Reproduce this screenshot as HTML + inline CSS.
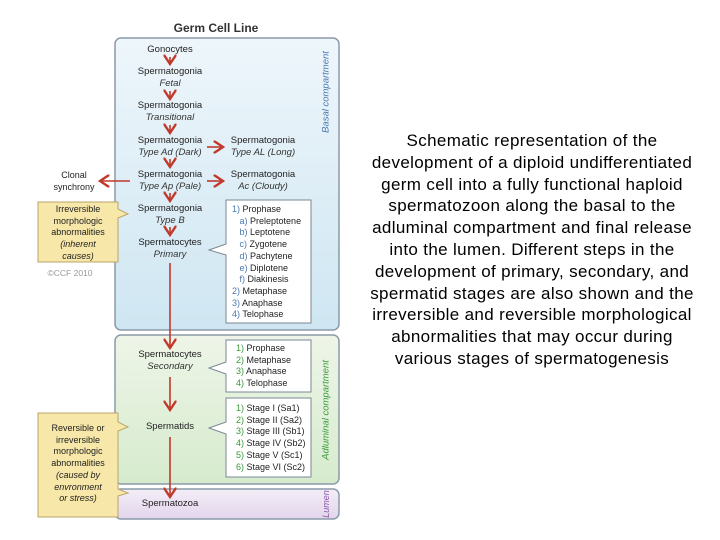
<!DOCTYPE html>
<html><head><style>
body{margin:0;width:720px;height:540px;background:#fff;position:relative;overflow:hidden;font-family:"Liberation Sans",sans-serif}
.t{position:absolute;font-size:9.5px;color:#222;white-space:nowrap;text-align:center;transform:translateX(-50%);line-height:12px}
.i{font-style:italic;color:#333}
.b{font-weight:bold}
.txt{position:absolute;left:532px;top:130px;transform:translateX(-50%);text-align:center;font-size:17px;letter-spacing:0.35px;line-height:21.8px;color:#000;white-space:nowrap}
</style></head><body>
<svg width="720" height="540" style="position:absolute;left:0;top:0">
<defs>
<linearGradient id="g1" x1="0" y1="0" x2="0" y2="1"><stop offset="0" stop-color="#eef6fb"/><stop offset="1" stop-color="#cfe6f2"/></linearGradient>
<linearGradient id="g2" x1="0" y1="0" x2="0" y2="1"><stop offset="0" stop-color="#eef5e8"/><stop offset="1" stop-color="#d6ebcd"/></linearGradient>
<linearGradient id="g3" x1="0" y1="0" x2="0" y2="1"><stop offset="0" stop-color="#f4eef8"/><stop offset="1" stop-color="#e3d5ec"/></linearGradient>
<marker id="a" markerWidth="8" markerHeight="8" refX="6" refY="4" orient="auto"><path d="M0,0 L6,4 L0,8" fill="none" stroke="#c0392b" stroke-width="1.5"/></marker>
</defs>
<rect x="115" y="38" width="224" height="292" rx="6" fill="url(#g1)" stroke="#8a9aa8" stroke-width="1.5"/>
<rect x="115" y="335" width="224" height="149" rx="6" fill="url(#g2)" stroke="#8a9aa8" stroke-width="1.5"/>
<rect x="115" y="489" width="224" height="30" rx="6" fill="url(#g3)" stroke="#8a9aa8" stroke-width="1.5"/>
<g stroke="#c0392b" stroke-width="1.6" fill="none">
<path d="M170,57 v7" marker-end="url(#a)"/>
<path d="M170,91 v8" marker-end="url(#a)"/>
<path d="M170,125 v8" marker-end="url(#a)"/>
<path d="M170,159 v8" marker-end="url(#a)"/>
<path d="M170,193 v8" marker-end="url(#a)"/>
<path d="M170,227 v8" marker-end="url(#a)"/>
<path d="M207,147 h16" marker-end="url(#a)"/>
<path d="M207,181 h16" marker-end="url(#a)"/>
<path d="M130,181 h-30" marker-end="url(#a)"/>
<path d="M170,263 v85" marker-end="url(#a)"/>
<path d="M170,377 v33" marker-end="url(#a)"/>
<path d="M170,437 v60" marker-end="url(#a)"/>
</g>
<g fill="#fff" stroke="#7a8894" stroke-width="1">
<path d="M226,200 h85 v123 h-85 v-68 l-17,-5 l17,-6 z"/>
<path d="M226,340 h85 v52 h-85 v-18 l-17,-6 l17,-6 z"/>
<path d="M226,398 h85 v79 h-85 v-43 l-17,-6 l17,-6 z"/>
</g>
<g fill="#f7e7a8" stroke="#b8a66a" stroke-width="1">
<path d="M38,202 h80 v7 l10,5 l-10,4 v44 h-80 z"/>
<path d="M38,413 h80 v9 l10,5 l-10,4 v58 l10,4 l-10,3 v21 h-80 z"/>
</g>
</svg>
<div class="t b" style="left:216px;top:22px;font-size:12px;color:#333">Germ Cell Line</div>
<div class="t" style="left:170px;top:44px">Gonocytes</div>
<div class="t" style="left:170px;top:66px">Spermatogonia</div><div class="t i" style="left:170px;top:78px">Fetal</div>
<div class="t" style="left:170px;top:100px">Spermatogonia</div><div class="t i" style="left:170px;top:112px">Transitional</div>
<div class="t" style="left:170px;top:135px">Spermatogonia</div><div class="t i" style="left:170px;top:147px">Type Ad (Dark)</div>
<div class="t" style="left:170px;top:169px">Spermatogonia</div><div class="t i" style="left:170px;top:181px">Type Ap (Pale)</div>
<div class="t" style="left:170px;top:203px">Spermatogonia</div><div class="t i" style="left:170px;top:215px">Type B</div>
<div class="t" style="left:170px;top:237px">Spermatocytes</div><div class="t i" style="left:170px;top:249px">Primary</div>
<div class="t" style="left:263px;top:135px">Spermatogonia</div><div class="t i" style="left:263px;top:147px">Type AL (Long)</div>
<div class="t" style="left:263px;top:169px">Spermatogonia</div><div class="t i" style="left:263px;top:181px">Ac (Cloudy)</div>
<div class="t" style="left:74px;top:169px;font-size:9px">Clonal<br>synchrony</div>
<div class="t" style="left:78px;top:204px;font-size:9px;line-height:11.7px">Irreversible<br>morphologic<br>abnormalities<br><i>(inherent<br>causes)</i></div>
<div class="t" style="left:70px;top:267px;font-size:8.5px;color:#999">©CCF 2010</div>
<div style="position:absolute;left:232px;top:204px;font-size:9px;line-height:11.7px;color:#222;white-space:nowrap">
<span style="color:#4a78b0">1)</span> Prophase<br>&nbsp;&nbsp;&nbsp;<span style="color:#4a78b0">a)</span> Preleptotene<br>&nbsp;&nbsp;&nbsp;<span style="color:#4a78b0">b)</span> Leptotene<br>&nbsp;&nbsp;&nbsp;<span style="color:#4a78b0">c)</span> Zygotene<br>&nbsp;&nbsp;&nbsp;<span style="color:#4a78b0">d)</span> Pachytene<br>&nbsp;&nbsp;&nbsp;<span style="color:#4a78b0">e)</span> Diplotene<br>&nbsp;&nbsp;&nbsp;<span style="color:#4a78b0">f)</span> Diakinesis<br><span style="color:#4a78b0">2)</span> Metaphase<br><span style="color:#4a78b0">3)</span> Anaphase<br><span style="color:#4a78b0">4)</span> Telophase</div>
<div class="t" style="left:170px;top:349px">Spermatocytes</div><div class="t i" style="left:170px;top:361px">Secondary</div>
<div style="position:absolute;left:236px;top:343px;font-size:9px;line-height:11.7px;color:#222;white-space:nowrap"><span style="color:#3a9a3a">1)</span> Prophase<br><span style="color:#3a9a3a">2)</span> Metaphase<br><span style="color:#3a9a3a">3)</span> Anaphase<br><span style="color:#3a9a3a">4)</span> Telophase</div>
<div class="t" style="left:170px;top:421px">Spermatids</div>
<div style="position:absolute;left:236px;top:403px;font-size:9px;line-height:11.7px;color:#222;white-space:nowrap"><span style="color:#3a9a3a">1)</span> Stage I (Sa1)<br><span style="color:#3a9a3a">2)</span> Stage II (Sa2)<br><span style="color:#3a9a3a">3)</span> Stage III (Sb1)<br><span style="color:#3a9a3a">4)</span> Stage IV (Sb2)<br><span style="color:#3a9a3a">5)</span> Stage V (Sc1)<br><span style="color:#3a9a3a">6)</span> Stage VI (Sc2)</div>
<div class="t" style="left:78px;top:423px;font-size:9px;line-height:11.7px">Reversible or<br>irreversible<br>morphologic<br>abnormalities<br><i>(caused by<br>envronment<br>or stress)</i></div>
<div class="t" style="left:170px;top:498px">Spermatozoa</div>
<div style="position:absolute;left:326px;top:92px;transform:translate(-50%,-50%) rotate(-90deg);font-size:9.5px;font-style:italic;color:#4a78b0;white-space:nowrap">Basal compartment</div>
<div style="position:absolute;left:326px;top:410px;transform:translate(-50%,-50%) rotate(-90deg);font-size:9.5px;font-style:italic;color:#3a9a3a;white-space:nowrap">Adluminal compartment</div>
<div style="position:absolute;left:326px;top:504px;transform:translate(-50%,-50%) rotate(-90deg);font-size:9px;font-style:italic;color:#8a5aa8;white-space:nowrap">Lumen</div>
<div class="txt">Schematic representation of the<br>development of a diploid undifferentiated<br>germ cell into a fully functional haploid<br>spermatozoon along the basal to the<br>adluminal compartment and final release<br>into the lumen. Different steps in the<br>development of primary, secondary, and<br>spermatid stages are also shown and the<br>irreversible and reversible morphological<br>abnormalities that may occur during<br>various stages of spermatogenesis</div>
</body></html>
